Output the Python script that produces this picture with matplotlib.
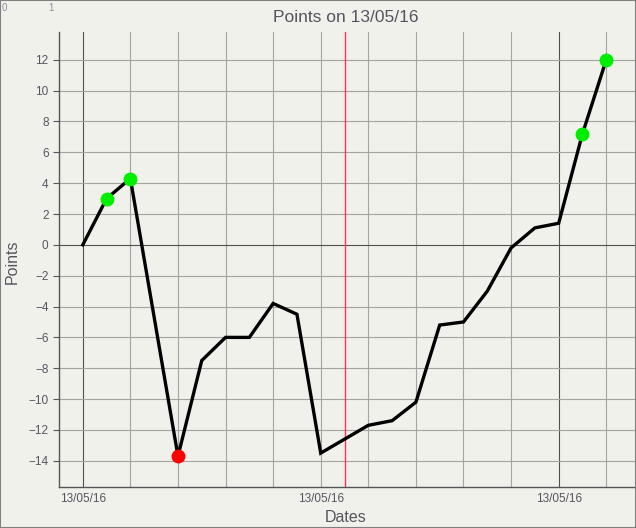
import numpy as np
import matplotlib.pyplot as plt
from matplotlib.patches import Rectangle

# point index along the x axis (one step per record) and the points value
idx = [0, 1, 2, 4, 5, 6, 7, 8, 9, 10, 12, 13, 14, 15, 16, 17, 18, 19, 20, 21, 22]
points = [0, 3.0, 4.3, -13.7, -7.5, -6.0, -6.0, -3.8, -4.5, -13.5, -11.7, -11.4,
          -10.2, -5.2, -5.0, -3.0, -0.2, 1.1, 1.4, 7.2, 12.0]
green_idx = [1, 2, 21, 22]
red_idx = [4]
date_ticks = [0, 10, 20]
date_labels = ['13/05/16', '13/05/16', '13/05/16']
now_idx = 11

bg = '#f1f1ec'
txt = '#555560'
plt.rcParams['font.family'] = ['Liberation Sans', 'DejaVu Sans']

fig = plt.figure(figsize=(6.36, 5.28), dpi=100, facecolor=bg)
ax = fig.add_axes([59/636, 1 - 487/528, 1 - 59/636, (487 - 32)/528])
ax.set_facecolor(bg)

# grid
for x in np.arange(0, 24, 2):
    c = '#505050' if x in (0, 20) else '#a4a4a0'
    ax.axvline(x, color=c, lw=0.8, zorder=1)
for y in np.arange(-14, 14, 2):
    c = '#505050' if y == 0 else '#a4a4a0'
    ax.axhline(y, color=c, lw=0.8, zorder=1)
ax.axvline(now_idx, color='#ff3355', lw=1.0, zorder=1)

ax.plot(idx, points, color='black', lw=2.4, zorder=3, solid_joinstyle='miter')
pmap = dict(zip(idx, points))
ax.plot(green_idx, [pmap[i] for i in green_idx], 'o', color='#00ee00', ms=9, zorder=4)
ax.plot(red_idx, [pmap[i] for i in red_idx], 'o', color='#ff0000', ms=9, zorder=4)

ax.set_xlim(-1, 23.25)
ax.set_ylim(-15.7, 13.8)
ax.set_yticks(np.arange(-14, 14, 2))
ax.set_xticks(date_ticks)
ax.set_xticklabels(date_labels)
ax.tick_params(axis='both', labelsize=8.5, colors=txt, length=4, width=0.8)
ax.tick_params(axis='x', length=0, pad=4)
for s in ('top', 'right'):
    ax.spines[s].set_visible(False)
for s in ('left', 'bottom'):
    ax.spines[s].set_color('#555555')
    ax.spines[s].set_linewidth(1)

fig.text(346/636, 1 - 18/528, 'Points on 13/05/16', ha='center', va='center',
         fontsize=12.5, color=txt)
fig.text(346/636, 1 - 518/528, 'Dates', ha='center', va='center', fontsize=11.5, color=txt)
fig.text(12/636, 1 - 262/528, 'Points', ha='center', va='center', rotation=90,
         fontsize=11.5, color=txt)
fig.text(51/636, 1 - 8/528, '1', ha='center', va='center', fontsize=7, color='#8890a0')
fig.text(4/636, 1 - 8/528, '0', ha='center', va='center', fontsize=7, color='#8890a0')

fig.patches.append(Rectangle((0, 0), 1, 1, transform=fig.transFigure, fill=False,
                             edgecolor='#808080', lw=1.5))

fig.savefig('out.png', dpi=100, facecolor=bg)
